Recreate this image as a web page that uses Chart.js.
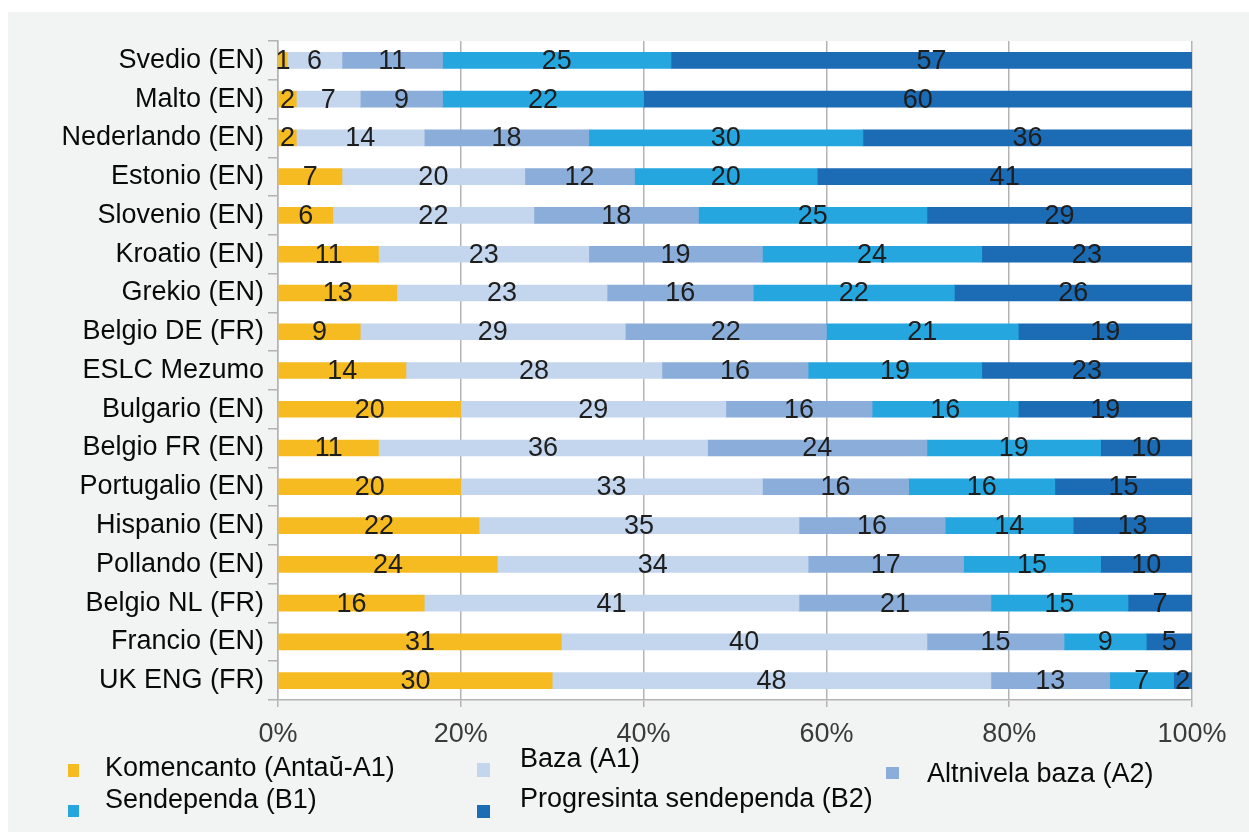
<!DOCTYPE html>
<html>
<head>
<meta charset="utf-8">
<script src="https://cdn.jsdelivr.net/npm/chart.js@4.4.0/dist/chart.umd.min.js"></script>
<style>
  html, body { margin: 0; padding: 0; background: #ffffff; }
  #wrap { width: 1249px; height: 832px; position: relative; }
</style>
</head>
<body>
<div id="wrap"><canvas id="c"></canvas></div>
<script>
// ---- data ----
const categories = [
  "Svedio (EN)", "Malto (EN)", "Nederlando (EN)", "Estonio (EN)", "Slovenio (EN)",
  "Kroatio (EN)", "Grekio (EN)", "Belgio DE (FR)", "ESLC Mezumo", "Bulgario (EN)",
  "Belgio FR (EN)", "Portugalio (EN)", "Hispanio (EN)", "Pollando (EN)",
  "Belgio NL (FR)", "Francio (EN)", "UK ENG (FR)"
];
const seriesNames = [
  "Komencanto (Antaŭ-A1)", "Baza (A1)", "Altnivela baza (A2)",
  "Sendependa (B1)", "Progresinta sendependa (B2)"
];
const komencanto  = [1, 2, 2, 7, 6, 11, 13, 9, 14, 20, 11, 20, 22, 24, 16, 31, 30];
const baza        = [6, 7, 14, 20, 22, 23, 23, 29, 28, 29, 36, 33, 35, 34, 41, 40, 48];
const altnivela   = [11, 9, 18, 12, 18, 19, 16, 22, 16, 16, 24, 16, 16, 17, 21, 15, 13];
const sendependa  = [25, 22, 30, 20, 25, 24, 22, 21, 19, 16, 19, 16, 14, 15, 15, 9, 7];
const progresinta = [57, 60, 36, 41, 29, 23, 26, 19, 23, 19, 10, 15, 13, 10, 7, 5, 2];
const xTicks = [0, 20, 40, 60, 80, 100];

// ---- styles ----
const colors = ["#f7bb22", "#c4d6ee", "#8badd9", "#25a6df", "#1b6bb5"];
const FONT = "'Liberation Sans', Arial, sans-serif";
// legend layout: [markerX, markerY, markerW, markerH, textX, textCenterY]
const legendLayout = [
  [68, 764, 11, 13, 105, 769],
  [477, 763, 13, 14, 520, 760],
  [886, 767, 13, 12, 927, 775],
  [68, 805, 11, 12, 105, 801],
  [477, 805, 13, 13, 520, 800]
];

const seriesData = [komencanto, baza, altnivela, sendependa, progresinta];

const bgPlugin = {
  id: 'bg',
  beforeDraw(chart) {
    const ctx = chart.ctx, a = chart.chartArea;
    ctx.save();
    ctx.fillStyle = '#ffffff';
    ctx.fillRect(0, 0, chart.width, chart.height);
    ctx.fillStyle = '#f2f3f3';
    ctx.fillRect(8, 12, chart.width - 8, chart.height - 12);
    ctx.fillStyle = '#ffffff';
    ctx.fillRect(a.left, a.top, a.right - a.left, a.bottom - a.top);
    ctx.restore();
  }
};

const labelPlugin = {
  id: 'segLabels',
  afterDatasetsDraw(chart) {
    const ctx = chart.ctx;
    ctx.save();
    ctx.font = "27px " + FONT;
    ctx.fillStyle = '#1e1e1e';
    ctx.textAlign = 'center';
    ctx.textBaseline = 'middle';
    chart.data.datasets.forEach((ds, i) => {
      const meta = chart.getDatasetMeta(i);
      meta.data.forEach((el, j) => {
        const v = ds.data[j];
        const cx = (el.x + el.base) / 2;
        ctx.fillText(String(v), cx, el.y + 1);
      });
    });
    ctx.restore();
  }
};

const legendPlugin = {
  id: 'customLegend',
  afterDraw(chart) {
    const ctx = chart.ctx;
    ctx.save();
    ctx.font = "27px " + FONT;
    ctx.textAlign = 'left';
    ctx.textBaseline = 'middle';
    chart.data.datasets.forEach((ds, i) => {
      const L = legendLayout[i];
      ctx.fillStyle = ds.backgroundColor;
      ctx.fillRect(L[0], L[1], L[2], L[3]);
      ctx.fillStyle = '#0a0a0a';
      ctx.fillText(ds.label, L[4], L[5]);
    });
    ctx.restore();
  }
};

new Chart(document.getElementById('c'), {
  type: 'bar',
  data: {
    labels: categories,
    datasets: seriesNames.map((name, i) => ({
      label: name,
      data: seriesData[i],
      backgroundColor: colors[i],
      borderWidth: 0,
      barThickness: 16
    }))
  },
  options: {
    indexAxis: 'y',
    responsive: true,
    maintainAspectRatio: false,
    animation: false,
    devicePixelRatio: 1,
    layout: { padding: { left: 0, right: 57, top: 41, bottom: 0 } },
    plugins: {
      legend: { display: false },
      tooltip: { enabled: false }
    },
    scales: {
      x: {
        stacked: true,
        min: 0,
        max: 100,
        afterFit(scale) { scale.height = 132; },
        afterBuildTicks(scale) { scale.ticks = xTicks.map(v => ({ value: v })); },
        ticks: {
          callback: v => v + '%',
          font: { size: 27, family: FONT },
          color: '#3a3a3a',
          padding: 11,
          maxRotation: 0
        },
        grid: { color: '#b3b3b3', lineWidth: 1.5, tickLength: 7, drawOnChartArea: true },
        border: { display: true, color: '#b3b3b3', width: 1.5 }
      },
      y: {
        stacked: true,
        afterFit(scale) { scale.width = 278; },
        ticks: {
          font: { size: 27, family: FONT },
          color: '#0a0a0a',
          padding: 4,
          autoSkip: false
        },
        grid: { offset: true, drawOnChartArea: false, tickLength: 10, color: '#b3b3b3', lineWidth: 1.5 },
        border: { display: true, color: '#b3b3b3', width: 1.5 }
      }
    }
  },
  plugins: [bgPlugin, labelPlugin, legendPlugin]
});
</script>
</body>
</html>
